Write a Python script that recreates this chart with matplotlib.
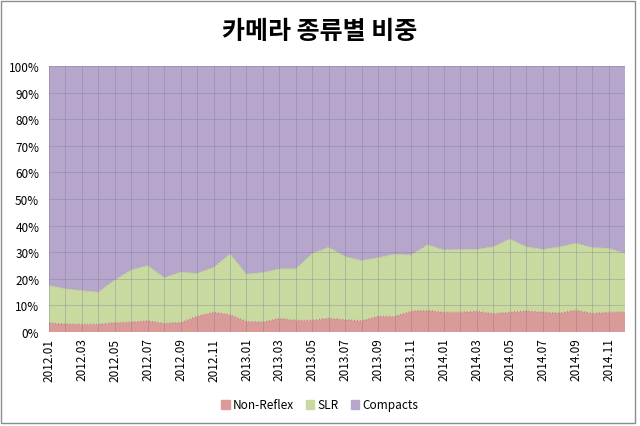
import matplotlib
matplotlib.use('Agg')
import numpy as np
import matplotlib.pyplot as plt
from matplotlib.patches import Rectangle

plt.rcParams['font.family'] = ['Noto Sans CJK KR', 'DejaVu Sans']

# months 2012.01 .. 2014.12
months = [f"{y}.{m:02d}" for y in (2012, 2013, 2014) for m in range(1, 13)]

# shares in %
non_reflex = [3.4, 3.0, 2.9, 2.9, 3.5, 3.7, 4.2, 3.2, 3.6, 5.9, 7.4, 6.5,
              4.0, 3.7, 5.1, 4.4, 4.4, 5.2, 4.6, 4.2, 5.9, 5.8, 7.8, 8.1,
              7.4, 7.4, 7.8, 6.9, 7.4, 7.9, 7.5, 7.1, 8.2, 7.0, 7.4, 7.5]
total_nr_slr = [17.5, 16.3, 15.6, 15.0, 19.6, 23.4, 25.0, 20.5, 22.5, 22.1, 24.3, 29.4,
                21.8, 22.4, 23.8, 23.8, 29.6, 31.9, 28.4, 26.9, 28.0, 29.3, 29.0, 32.8,
                30.9, 31.1, 31.1, 32.1, 35.0, 32.1, 31.1, 32.0, 33.4, 31.8, 31.5, 29.6]
slr = [t - n for t, n in zip(total_nr_slr, non_reflex)]
compacts = [100 - t for t in total_nr_slr]

labels = ['Non-Reflex', 'SLR', 'Compacts']
colors = ['#DA9A98', '#C8DAA0', '#B7A6CC']
edges = ['#C07876', '#A9BD7E', '#9C8AB3']

fig = plt.figure(figsize=(6.4, 4.27), dpi=100)
ax = fig.add_axes([49/640, 1 - 333/427, (625-49)/640, (333-67)/427])

x = np.arange(len(months))
ax.stackplot(x, non_reflex, slr, compacts, colors=colors, labels=labels, zorder=1)
cum = np.cumsum([non_reflex, slr], axis=0)
for c, e in zip(cum, edges):
    ax.plot(x, c, color=e, lw=0.8, ls=':', zorder=2)

ax.set_xlim(0, len(months) - 1)
ax.set_ylim(0, 100)
ax.set_xticks(x)
ax.set_xticklabels([m if i % 2 == 0 else '' for i, m in enumerate(months)],
                   rotation=90, fontsize=8.5)
ax.set_yticks(range(0, 101, 10))
ax.set_yticklabels([f"{v}%" for v in range(0, 101, 10)], fontsize=8.5)
ax.tick_params(axis='y', length=0, pad=7)
ax.tick_params(axis='x', length=0, pad=4)
ax.grid(True, color='#6E6E8A', alpha=0.3, lw=0.7)
ax.set_axisbelow(False)
for s in ax.spines.values():
    s.set_visible(False)

fig.text(0.5, 1 - 32/427, '카메라 종류별 비중', ha='center', va='center',
         fontsize=18, fontweight='bold')

handles = [Rectangle((0, 0), 1, 1, color=c) for c in colors]
fig.legend(handles, labels, loc='center', bbox_to_anchor=(0.5, 1 - 406/427),
           ncol=3, frameon=False, fontsize=8.5, handlelength=0.7, handleheight=0.7,
           handletextpad=0.3, columnspacing=1.0)

fig.patches.append(Rectangle((1/640, 3/427), 634/640, 422/427, transform=fig.transFigure,
                             fill=False, edgecolor='#8C8C8C', lw=1))

fig.savefig('out.png', dpi=100)
